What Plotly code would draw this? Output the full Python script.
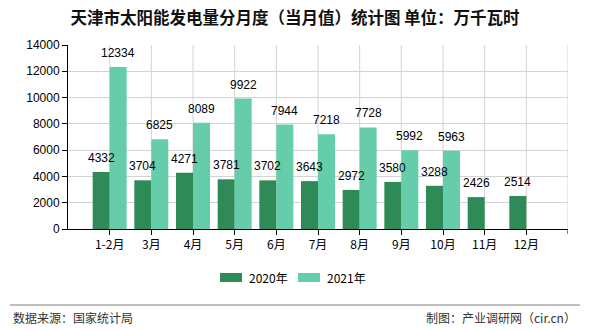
import plotly.graph_objects as go

# Monthly solar generation in Tianjin (10,000 kWh)
months = ["1-2月", "3月", "4月", "5月", "6月", "7月", "8月", "9月", "10月", "11月", "12月"]
gen_2020 = [4332, 3704, 4271, 3781, 3702, 3643, 2972, 3580, 3288, 2426, 2514]
gen_2021 = [12334, 6825, 8089, 9922, 7944, 7218, 7728, 5992, 5963, None, None]
y_ticks = [0, 2000, 4000, 6000, 8000, 10000, 12000, 14000]
series_names = ["2020年", "2021年"]
series_colors = ["#2e8b57", "#66cdaa"]

W, H = 590, 330
ML, MR, MT, MB = 68, 22, 45, 101
PW, PH = W - ML - MR, H - MT - MB
BAR_PX = 17  # width of one bar in pixels


def px(x):
    return (x - ML) / PW


def py(y):
    return (H - MB - y) / PH


FONT = "Noto Sans CJK SC, DejaVu Sans, sans-serif"
NUM_FONT = "Liberation Sans, Arial, sans-serif"

fig = go.Figure()
for name, vals, color in zip(series_names, [gen_2020, gen_2021], series_colors):
    fig.add_trace(go.Bar(
        x=months, y=vals, name=name, marker=dict(color=color, line=dict(width=0)),
        showlegend=False,
    ))

# value labels above each bar, drawn on top of everything
for k, vals in enumerate([gen_2020, gen_2021]):
    shift = (k - 0.5) * BAR_PX
    for m, v in zip(months, vals):
        if v is None:
            continue
        fig.add_annotation(x=m, y=v, text=str(v), xref="x", yref="y",
                           showarrow=False, xanchor="center", yanchor="bottom",
                           xshift=shift, yshift=5,
                           font=dict(size=12, color="#000000", family=NUM_FONT))

fig.update_layout(
    width=W, height=H,
    margin=dict(l=ML, r=MR, t=MT, b=MB),
    paper_bgcolor="white", plot_bgcolor="white",
    barmode="group", bargap=1 - 2 * BAR_PX / (PW / 12), bargroupgap=0,
    font=dict(family=FONT, size=11, color="#000000"),
    title=dict(text="<b>天津市太阳能发电量分月度（当月值）统计图 单位：万千瓦时</b>",
               x=0.5, xanchor="center", y=1 - 18 / H, yanchor="middle",
               font=dict(size=16.5, color="#111111", family=FONT)),
    xaxis=dict(type="category", range=[-1, 11], showgrid=False,
               showline=True, linecolor="#000000", linewidth=1,
               ticks="outside", ticklen=5, tickcolor="#000000",
               tickfont=dict(size=12, family=FONT)),
    yaxis=dict(range=[0, 14000], tickvals=y_ticks, ticktext=[str(v) for v in y_ticks],
               showgrid=True, gridcolor="#d3d3d3",
               showline=True, linecolor="#000000", linewidth=1,
               ticks="outside", ticklen=5, tickcolor="#000000", zeroline=False,
               tickfont=dict(size=12, family=NUM_FONT)),
)

# vertical grid lines at category centres and the right edge
for i in range(len(months) + 1):
    fig.add_shape(type="line", xref="x", yref="paper", x0=i, x1=i, y0=0, y1=1,
                  line=dict(color="#d3d3d3", width=1), layer="below")
fig.add_shape(type="line", xref="x", yref="paper", x0=11, x1=11, y0=0, y1=-5 / PH,
              line=dict(color="#000000", width=1))

# legend with wide swatches
legend_items = [(220, 247), (298, 325)]
for (sx, tx), name, color in zip(legend_items, series_names, series_colors):
    fig.add_shape(type="rect", xref="paper", yref="paper",
                  x0=px(sx), x1=px(sx + 22), y0=py(282), y1=py(273),
                  fillcolor=color, line=dict(width=0))
    fig.add_annotation(text=name, xref="paper", yref="paper", x=px(tx), y=py(277),
                       xanchor="left", yanchor="middle", showarrow=False,
                       font=dict(size=12, color="#000000", family=FONT))

# footer separator and source notes
fig.add_shape(type="line", xref="paper", yref="paper", x0=px(10), x1=px(580),
              y0=py(305), y1=py(305), line=dict(color="#808080", width=1))
fig.add_annotation(text="数据来源：国家统计局", xref="paper", yref="paper",
                   x=px(11), y=py(317), xanchor="left", yanchor="middle", showarrow=False,
                   font=dict(size=12, color="#333333", family=FONT))
fig.add_annotation(text="制图：产业调研网（cir.cn）", xref="paper", yref="paper",
                   x=px(578), y=py(317), xanchor="right", yanchor="middle", showarrow=False,
                   font=dict(size=12, color="#333333", family=FONT))

fig.write_html("out.html")
